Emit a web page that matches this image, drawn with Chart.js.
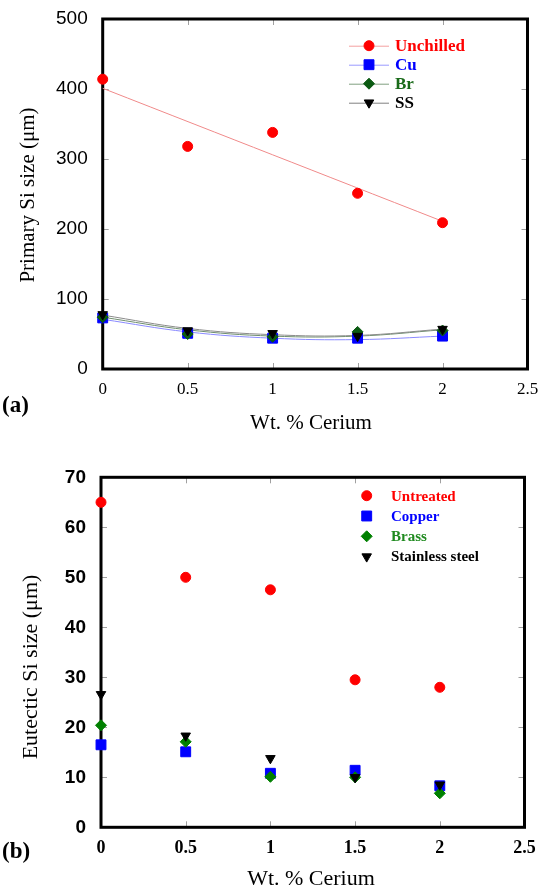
<!DOCTYPE html>
<html>
<head>
<meta charset="utf-8">
<script src="https://cdn.jsdelivr.net/npm/chart.js@4/dist/chart.umd.min.js"></script>
<style>
  body { margin: 0; background: #fff; width: 541px; height: 892px; position: relative; overflow: hidden; }
  .box { position: absolute; left: 0; width: 541px; }
  .txt { position: absolute; font-family: "Liberation Serif", serif; color: #000; white-space: nowrap; }
  .ytitle { transform: translate(-50%, -50%) rotate(-90deg); }
  .xtitle { transform: translate(-50%, -50%); }
</style>
</head>
<body>
<div class="box" style="top:0;height:440px"><canvas id="chartA"></canvas></div>
<div class="box" style="top:450px;height:442px"><canvas id="chartB"></canvas></div>

<div class="txt ytitle" style="left:27px;top:195px;font-size:21px">Primary Si size (μm)</div>
<div class="txt xtitle" style="left:311px;top:422px;font-size:21px">Wt. % Cerium</div>
<div class="txt" style="left:2px;top:392px;font-size:23px;font-weight:bold">(a)</div>

<div class="txt ytitle" style="left:30px;top:667px;font-size:22px">Eutectic Si size (μm)</div>
<div class="txt xtitle" style="left:311px;top:878px;font-size:22px">Wt. % Cerium</div>
<div class="txt" style="left:2px;top:838px;font-size:23px;font-weight:bold">(b)</div>

<script>
// wt.% cerium additions
var cerium = [0, 0.5, 1, 1.5, 2];

// (a) primary Si size, um
var unchilled = [414, 318, 338, 251, 209];
var cu = [73, 51, 44, 44, 47];
var br = [74, 50, 46, 53, 55];
var ss = [78, 55, 51, 47, 57];

// fitted curves
var unchilledFitX = [0, 2];
var unchilledFit = [401, 211];
var cuFit = [71, 53, 44, 42, 47];
var brFit = [74, 56, 47, 47, 56];
var ssFit = [77, 58, 49, 48, 57];

// (b) eutectic Si size, um
var untreated = [65, 50, 47.5, 29.5, 28];
var copper = [16.5, 15.1, 10.8, 11.4, 8.3];
var brass = [20.4, 17.1, 10.1, 10, 6.8];
var stainless = [26.6, 18.3, 13.8, 10, 8.5];

var xTicks = [0, 0.5, 1, 1.5, 2, 2.5];
var xTickLabels = ['0', '0.5', '1', '1.5', '2', '2.5'];

function pts(xs, ys) {
    return xs.map(function (x, i) { return { x: x, y: ys[i] }; });
}

function markers(label, ys, style, color, radius, rotation) {
    return {
        label: label,
        data: pts(cerium, ys),
        showLine: false,
        pointStyle: style,
        pointRadius: radius,
        pointHoverRadius: radius,
        pointRotation: rotation || 0,
        backgroundColor: color,
        borderColor: color,
        pointBorderWidth: 1,
        clip: false
    };
}

function fitLine(xs, ys, color) {
    return {
        label: '',
        data: pts(xs, ys),
        showLine: true,
        borderColor: color,
        borderWidth: 1,
        pointRadius: 0,
        tension: 0.4,
        fill: false,
        clip: false
    };
}

// frame and inward tick marks
var framePlugin = {
    id: 'frame',
    beforeDatasetsDraw: function (chart) {
        var ctx = chart.ctx, a = chart.chartArea;
        var xs = chart.scales.x, ys = chart.scales.y;
        ctx.save();
        ctx.strokeStyle = '#a0a0a0';
        ctx.lineWidth = 1;
        ctx.beginPath();
        ys.ticks.forEach(function (t) {
            var y = Math.round(ys.getPixelForValue(t.value)) + 0.5;
            ctx.moveTo(a.left, y); ctx.lineTo(a.left + 6, y);
            ctx.moveTo(a.right, y); ctx.lineTo(a.right - 6, y);
        });
        xs.ticks.forEach(function (t) {
            var x = Math.round(xs.getPixelForValue(t.value)) + 0.5;
            ctx.moveTo(x, a.top); ctx.lineTo(x, a.top + 6);
            ctx.moveTo(x, a.bottom); ctx.lineTo(x, a.bottom - 6);
        });
        ctx.stroke();
        ctx.strokeStyle = '#000';
        ctx.lineWidth = 3;
        ctx.strokeRect(a.left, a.top, a.right - a.left, a.bottom - a.top);
        ctx.restore();
    }
};

// custom legend: entries are [text, textColor, markerColor, style, radius, rotation, lineColor]
function legendPlugin(entries, opt) {
    return {
        id: 'legendBox',
        afterDraw: function (chart) {
            var ctx = chart.ctx;
            ctx.save();
            entries.forEach(function (e, i) {
                var y = opt.y + i * opt.gap;
                if (e[6]) {
                    ctx.strokeStyle = e[6];
                    ctx.lineWidth = 1;
                    ctx.beginPath();
                    ctx.moveTo(opt.lineFrom, y + 0.5);
                    ctx.lineTo(opt.lineTo, y + 0.5);
                    ctx.stroke();
                }
                ctx.fillStyle = e[2];
                ctx.strokeStyle = e[2];
                ctx.lineWidth = 1;
                Chart.helpers.drawPoint(ctx, { pointStyle: e[3], radius: e[4], rotation: e[5] || 0, borderWidth: 1 }, opt.markX, y);
                ctx.fillStyle = e[1];
                ctx.font = 'bold ' + opt.size + 'px "Liberation Serif", serif';
                ctx.textBaseline = 'middle';
                ctx.textAlign = 'left';
                ctx.fillText(e[0], opt.textX, y + 1);
            });
            ctx.restore();
        }
    };
}

function scalesFor(yMax, yStep, yFont, xFont, yWidth, xHeight) {
    return {
        x: {
            type: 'linear', min: 0, max: 2.5,
            grid: { display: false }, border: { display: false },
            afterBuildTicks: function (s) { s.ticks = xTicks.map(function (v) { return { value: v }; }); },
            afterFit: function (s) { s.height = xHeight; },
            ticks: {
                color: '#000', font: xFont, padding: 2, maxRotation: 0,
                callback: function (v) { var i = xTicks.indexOf(v); return i >= 0 ? xTickLabels[i] : String(v); }
            }
        },
        y: {
            type: 'linear', min: 0, max: yMax,
            grid: { display: false }, border: { display: false },
            afterFit: function (s) { s.width = yWidth; },
            ticks: { color: '#000', font: yFont, padding: 7, stepSize: yStep }
        }
    };
}

var greenA = '#0b5a12';

new Chart(document.getElementById('chartA'), {
    type: 'scatter',
    data: {
        datasets: [
            markers('SS', ss, 'triangle', '#000', 5.5, 180),
            markers('Br', br, 'rectRot', greenA, 5.5),
            markers('Cu', cu, 'rect', '#0000ff', 7),
            markers('Unchilled', unchilled, 'circle', '#ff0000', 5),
            fitLine(cerium, ssFit, '#8c8c8c'),
            fitLine(cerium, brFit, '#6f8f6f'),
            fitLine(cerium, cuFit, '#8a8aff'),
            fitLine(unchilledFitX, unchilledFit, '#f08a8a')
        ]
    },
    options: {
        responsive: true,
        maintainAspectRatio: false,
        animation: false,
        layout: { autoPadding: false, padding: { top: 19, right: 13.5, left: 0, bottom: 0 } },
        plugins: { legend: { display: false }, tooltip: { enabled: false } },
        scales: scalesFor(500, 100,
            { family: '"Liberation Sans", Arial, sans-serif', size: 19 },
            { family: '"Liberation Serif", serif', size: 17 },
            102.7, 71)
    },
    plugins: [framePlugin, legendPlugin([
        ['Unchilled', '#ff0000', '#ff0000', 'circle', 5, 0, '#f4a0a0'],
        ['Cu', '#0000ff', '#0000ff', 'rect', 7, 0, '#9a9aff'],
        ['Br', '#1a6b1a', greenA, 'rectRot', 5.5, 0, '#80a080'],
        ['SS', '#000', '#000', 'triangle', 5.5, 180, '#808080']
    ], { y: 45.7, gap: 19, lineFrom: 349, lineTo: 389, markX: 369, textX: 395, size: 17 })]
});

new Chart(document.getElementById('chartB'), {
    type: 'scatter',
    data: {
        datasets: [
            markers('Stainless steel', stainless, 'triangle', '#000', 5.5, 180),
            markers('Brass', brass, 'rectRot', '#008000', 5.5),
            markers('Copper', copper, 'rect', '#0000ff', 7),
            markers('Untreated', untreated, 'circle', '#ff0000', 5)
        ]
    },
    options: {
        responsive: true,
        maintainAspectRatio: false,
        animation: false,
        layout: { autoPadding: false, padding: { top: 27.3, right: 16.5, left: 0, bottom: 0 } },
        plugins: { legend: { display: false }, tooltip: { enabled: false } },
        scales: scalesFor(70, 10,
            { family: '"Liberation Sans", Arial, sans-serif', size: 19, weight: 'bold' },
            { family: '"Liberation Serif", serif', size: 18, weight: 'bold' },
            101, 442 - 377.3)
    },
    plugins: [framePlugin, legendPlugin([
        ['Untreated', '#ff0000', '#ff0000', 'circle', 5, 0, null],
        ['Copper', '#0000ff', '#0000ff', 'rect', 7, 0, null],
        ['Brass', '#1f8a1f', '#008000', 'rectRot', 5.5, 0, null],
        ['Stainless steel', '#000', '#000', 'triangle', 5.5, 180, null]
    ], { y: 45.7, gap: 20.3, lineFrom: 0, lineTo: 0, markX: 366.7, textX: 391, size: 15 })]
});
</script>
</body>
</html>
